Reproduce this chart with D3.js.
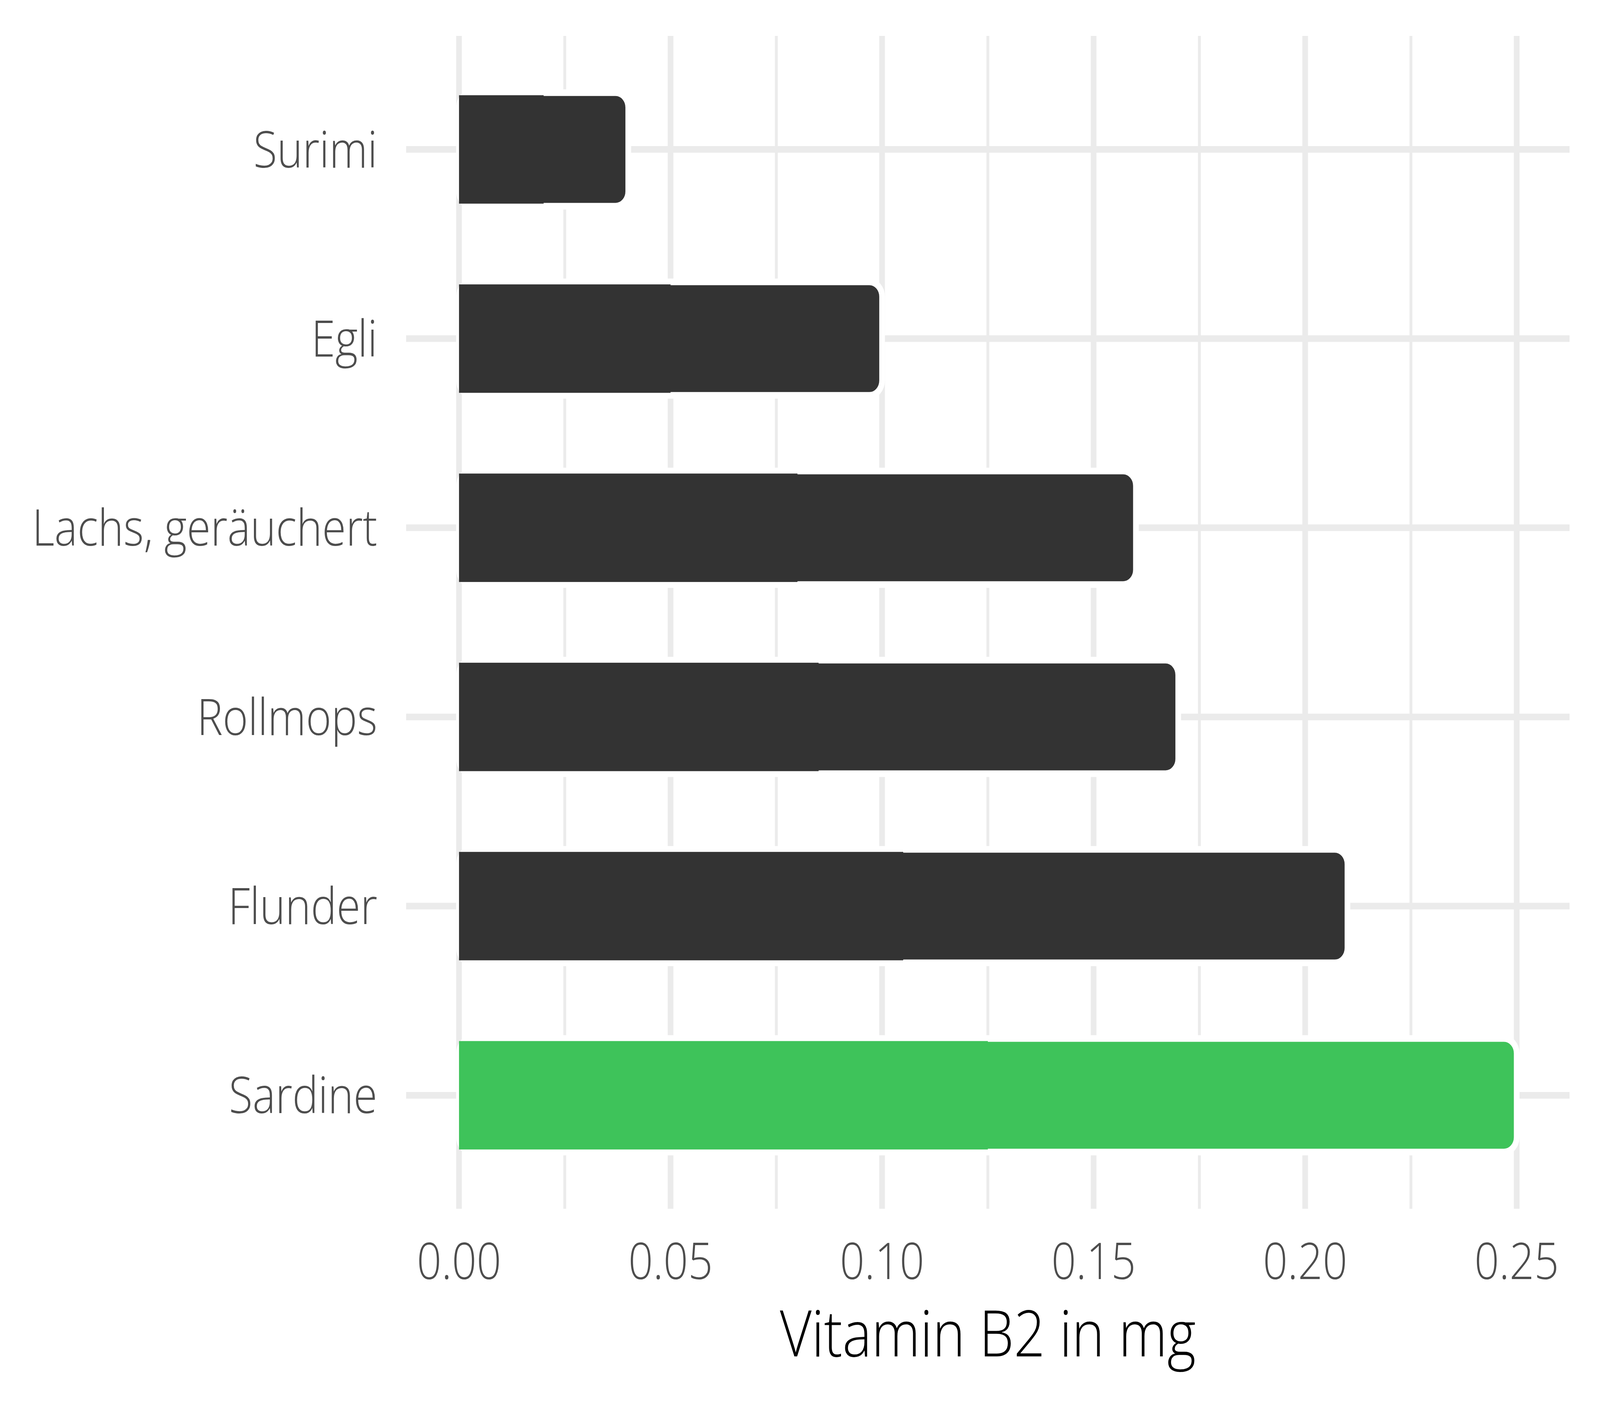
<!DOCTYPE html>
<html>
<head>
<meta charset="utf-8">
<script src="https://cdn.jsdelivr.net/npm/d3@7"></script>
<style>
  html, body { margin: 0; padding: 0; background: #ffffff; overflow: hidden; }
  svg { display: block; width: 100vw; height: 100vh; }
  text { font-family: "Open Sans", "Noto Sans", sans-serif; font-weight: 300; }
</style>
</head>
<body>
<script>
// ---- data ----
const categories = ["Surimi", "Egli", "Lachs, geräuchert", "Rollmops", "Flunder", "Sardine"];
const values = [0.04, 0.10, 0.16, 0.17, 0.21, 0.25];
const highlight = ["Sardine"];
const xTicks = [0, 0.05, 0.10, 0.15, 0.20, 0.25];
const xMinorTicks = [0.025, 0.075, 0.125, 0.175, 0.225];
const xTitle = "Vitamin B2 in mg";

const W = 4800, H = 3600;
const panel = { left: 1218.4, right: 4708.7, top: 92, bottom: 3095 };

const svg = d3.select("body").append("svg")
  .attr("viewBox", `0 0 ${W} ${H}`)
  .attr("preserveAspectRatio", "none");

svg.append("rect").attr("width", W).attr("height", H).attr("fill", "#ffffff");

const x = d3.scaleLinear().domain([-0.0125, 0.2625]).range([panel.left, panel.right]);
const y = d3.scalePoint().domain(categories).range([panel.top, panel.bottom]).padding(0.6);
const step = y.step();
const barH = step * 0.6;
const strokeW = 17;

const grid = svg.append("g");
// minor vertical gridlines
grid.selectAll("line.minor").data(xMinorTicks).join("line")
  .attr("x1", d => x(d)).attr("x2", d => x(d))
  .attr("y1", panel.top).attr("y2", panel.bottom)
  .attr("stroke", "#ebebeb").attr("stroke-width", 8.5);
// major vertical gridlines
grid.selectAll("line.major").data(xTicks).join("line")
  .attr("x1", d => x(d)).attr("x2", d => x(d))
  .attr("y1", panel.top).attr("y2", panel.bottom)
  .attr("stroke", "#ebebeb").attr("stroke-width", 17);
// horizontal gridlines
grid.selectAll("line.h").data(categories).join("line")
  .attr("x1", panel.left).attr("x2", panel.right)
  .attr("y1", d => y(d)).attr("y2", d => y(d))
  .attr("stroke", "#ebebeb").attr("stroke-width", 17);

const data = categories.map((c, i) => ({ cat: c, val: values[i] }));
const color = d => highlight.includes(d.cat) ? "#3ec35a" : "#333333";

const bars = svg.append("g");
// rounded bars with white outline
bars.selectAll("rect.round").data(data).join("rect")
  .attr("x", x(0))
  .attr("y", d => y(d.cat) - barH / 2)
  .attr("width", d => x(d.val) - x(0))
  .attr("height", barH)
  .attr("rx", 38).attr("ry", 38)
  .attr("fill", color)
  .attr("stroke", "#ffffff")
  .attr("stroke-width", strokeW);
// square left half to keep the base corners square
bars.selectAll("rect.sq").data(data).join("rect")
  .attr("x", x(0))
  .attr("y", d => y(d.cat) - (barH - strokeW) / 2 - 2)
  .attr("width", d => x(d.val / 2) - x(0))
  .attr("height", barH - strokeW + 4)
  .attr("fill", color);

// y labels
const fs = 130;
svg.append("g").selectAll("text").data(categories).join("text")
  .attr("x", 1132)
  .attr("y", d => y(d) + 46)
  .attr("text-anchor", "end")
  .attr("font-size", fs)
  .attr("fill", "#4d4d4d")
  .text(d => d);

// x tick labels
svg.append("g").selectAll("text").data(xTicks).join("text")
  .attr("x", d => x(d))
  .attr("y", 3275)
  .attr("text-anchor", "middle")
  .attr("font-size", fs)
  .attr("fill", "#4d4d4d")
  .text(d => d3.format(".2f")(d));

// x title
svg.append("text")
  .attr("x", (panel.left + panel.right) / 2)
  .attr("y", 3473)
  .attr("text-anchor", "middle")
  .attr("font-size", 165)
  .attr("fill", "#000000")
  .text(xTitle);
</script>
</body>
</html>
